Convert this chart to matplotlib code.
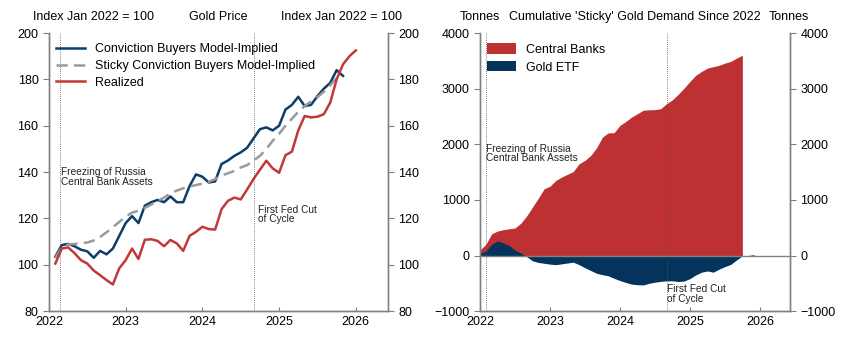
import numpy as np
import matplotlib
matplotlib.use("Agg")
import matplotlib.pyplot as plt

plt.rcParams["font.family"] = ["Liberation Sans", "DejaVu Sans"]
plt.rcParams["font.size"] = 9
plt.rcParams["axes.unicode_minus"] = True

# gold price, index Jan 2022 = 100, month-end values from Jan 2022
conviction = [103.5, 108.5, 109, 108, 106.5, 105.8, 103, 106, 104.5, 107, 112.5, 118,
              121, 118, 125.5, 127, 128, 127, 129.5, 127, 127, 134, 139, 138,
              135.5, 136, 143.5, 145, 147, 148.5, 150.5, 154.5, 158.5, 159.3, 158, 160,
              167, 169, 172.5, 168.5, 169, 172.8, 176, 178.5, 184, 181.5]
sticky = [103, 107.5, 108.8, 109, 109.3, 109.6, 110.5, 112, 114, 116.2, 118.5, 120.8,
          122.5, 123.3, 124.5, 126, 127.5, 129, 130.8, 132, 133, 133.8, 134.4, 135,
          135.8, 137, 138.5, 139.5, 140.5, 142, 143, 145, 147, 150, 153.5, 156.5,
          160, 163, 166, 168.5, 170.5, 172.3, 174.7, 177.5, 180.5]
realized = [100.5, 107, 107.5, 105, 102, 100.5, 97.5, 95.5, 93.4, 91.5, 98.5, 102,
            107, 102.5, 110.8, 111, 110.3, 108, 110.7, 109.2, 106, 112.5, 114.2, 116.4,
            115.4, 115.2, 124, 127.6, 129, 128.2, 132.5, 137, 141, 144.9, 141.6, 139.7,
            147.3, 148.8, 158, 164.2, 163.6, 163.9, 165, 170, 180, 186.5, 190, 192.5]

# cumulative sticky demand in tonnes, monthly from Jan 2022
central_banks = [100, 200, 390, 440, 465, 480, 495, 580, 710, 870, 1030, 1200,
                 1245, 1350, 1410, 1460, 1510, 1650, 1710, 1800, 1937, 2130, 2205, 2208,
                 2340, 2410, 2490, 2550, 2612, 2620, 2623, 2640, 2730, 2800, 2900, 3010,
                 3130, 3240, 3310, 3370, 3395, 3420, 3460, 3490, 3550, 3600]
gold_etf = [40, 80, 200, 262, 225, 180, 100, 45, -20, -95, -125, -140,
            -155, -165, -150, -135, -120, -165, -220, -270, -320, -345, -365, -410,
            -450, -485, -515, -525, -530, -500, -480, -465, -455, -455, -468, -460,
            -415, -350, -300, -278, -300, -245, -200, -160, -80, -5, 0, 15]

year_ticks = [2022, 2023, 2024, 2025, 2026]
russia_freeze = 2022.15
fed_cut = 2024.67

BLUE = "#0d3d6b"
RED = "#c23838"
GRAY = "#9a9a9a"
NAVY = "#04345c"
SPINE = "#808080"


def month_end(n):
    return 2022 + (np.arange(n) + 1) / 12


def month_start(n):
    return 2022 + np.arange(n) / 12


def style_axes(ax, ylim, yticks):
    ax.set_ylim(*ylim)
    ax.set_yticks(yticks)
    ax.spines["top"].set_visible(False)
    for side in ("left", "right", "bottom"):
        ax.spines[side].set_color(SPINE)
        ax.spines[side].set_linewidth(1.0)
    ax.tick_params(axis="y", direction="out", length=4, color=SPINE, labelsize=9)
    ax.tick_params(axis="x", direction="in", length=3, color=SPINE, labelsize=9)


fig = plt.figure(figsize=(8.53, 3.48), dpi=100)

# ---- left panel: gold price ----
ax1 = fig.add_axes([0.0574, 0.106, 0.3975, 0.799])
ax1.plot(month_end(len(conviction)), conviction, color=BLUE, lw=1.8,
         label="Conviction Buyers Model-Implied")
ax1.plot(month_end(len(sticky)), sticky, color=GRAY, lw=1.8, ls=(0, (4.5, 2.5)),
         label="Sticky Conviction Buyers Model-Implied")
ax1.plot(month_end(len(realized)), realized, color=RED, lw=1.8, label="Realized")
ax1.set_xlim(2022, 2026.42)
ax1.set_xticks(year_ticks)
for x in (russia_freeze, fed_cut):
    ax1.axvline(x, color="#555555", lw=0.6, ls=(0, (1, 1.5)))
style_axes(ax1, (80, 200), range(80, 201, 20))
ax1.text(russia_freeze + 0.01, 142, "Freezing of Russia\nCentral Bank Assets",
         fontsize=7.3, color="#222222", va="top", linespacing=0.95)
ax1.text(fed_cut + 0.05, 126, "First Fed Cut\nof Cycle",
         fontsize=7.3, color="#222222", va="top", linespacing=0.95)
ax1.legend(loc="upper left", bbox_to_anchor=(0.0, 0.99), frameon=False,
           fontsize=9, handlelength=2.3, labelspacing=0.38, borderaxespad=0.2)
ax1r = ax1.twinx()
style_axes(ax1r, (80, 200), range(80, 201, 20))

# ---- right panel: cumulative demand ----
ax2 = fig.add_axes([0.5627, 0.106, 0.3634, 0.799])
t_cb = month_start(len(central_banks))
t_etf = month_start(len(gold_etf))
ax2.fill_between(t_cb, 0, central_banks, color="#bd3132", lw=0, label="Central Banks")
ax2.fill_between(t_etf, 0, gold_etf, color=NAVY, lw=0, label="Gold ETF")
ax2.axhline(0, color=SPINE, lw=1.0)
ax2.set_xlim(2022, 2026.43)
ax2.set_xticks(year_ticks)
for x in (2022.08, fed_cut):
    ax2.axvline(x, color="#555555", lw=0.6, ls=(0, (1, 1.5)))
style_axes(ax2, (-1000, 4000), range(-1000, 4001, 1000))
ax2.text(2022.09, 2010, "Freezing of Russia\nCentral Bank Assets",
         fontsize=7.3, color="#222222", va="top", linespacing=0.95)
ax2.text(fed_cut, -520, "First Fed Cut\nof Cycle",
         fontsize=7.3, color="#222222", va="top", linespacing=0.95)
ax2.legend(loc="upper left", bbox_to_anchor=(0.0, 0.99), frameon=False,
           fontsize=9, handlelength=2.3, handleheight=0.9, labelspacing=0.42,
           borderaxespad=0.2)
ax2r = ax2.twinx()
style_axes(ax2r, (-1000, 4000), range(-1000, 4001, 1000))

# headers above the panels
ty = 0.951
fig.text(0.110, ty, "Index Jan 2022 = 100", ha="center", va="center", fontsize=9)
fig.text(0.256, ty, "Gold Price", ha="center", va="center", fontsize=9)
fig.text(0.400, ty, "Index Jan 2022 = 100", ha="center", va="center", fontsize=9)
fig.text(0.563, ty, "Tonnes", ha="center", va="center", fontsize=9)
fig.text(0.744, ty, "Cumulative 'Sticky' Gold Demand Since 2022", ha="center",
         va="center", fontsize=9)
fig.text(0.925, ty, "Tonnes", ha="center", va="center", fontsize=9)

fig.savefig("out.png", dpi=100)
